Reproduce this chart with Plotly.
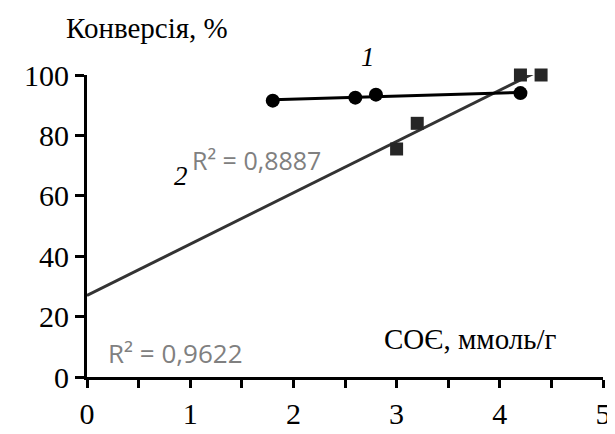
import numpy as np
import plotly.graph_objects as go

# Data
x1 = [1.8, 2.6, 2.8, 4.2]
y1 = [91.5, 92.5, 93.5, 94.0]
x2 = [3.0, 3.2, 4.2, 4.4]
y2 = [75.5, 84.0, 100.0, 100.0]
x_ticks = [0, 1, 2, 3, 4, 5]
y_ticks = [0, 20, 40, 60, 80, 100]
r2_labels = ["R² = 0,8887", "R² = 0,9622"]

# Linear trendlines (fitted from data)
k1, b1 = np.polyfit(x1, y1, 1)
k2, b2 = np.polyfit(x2, y2, 1)
t1x = [min(x1), max(x1)]
t1y = [k1 * v + b1 for v in t1x]
t2x = [0, max(x2)]
t2y = [k2 * v + b2 for v in t2x]

fig = go.Figure()
fig.add_trace(go.Scatter(x=t2x, y=t2y, mode="lines",
                         line=dict(color="#333333", width=3), cliponaxis=False))
fig.add_trace(go.Scatter(x=t1x, y=t1y, mode="lines",
                         line=dict(color="#000000", width=3), cliponaxis=False))
fig.add_trace(go.Scatter(x=x1, y=y1, mode="markers",
                         marker=dict(symbol="circle", size=14, color="#000000"),
                         cliponaxis=False))
fig.add_trace(go.Scatter(x=x2, y=y2, mode="markers",
                         marker=dict(symbol="square", size=13, color="#262626"),
                         cliponaxis=False))

serif = "Liberation Serif"
sans = "Open Sans"
fig.update_layout(
    width=615, height=434,
    margin=dict(l=79, r=17, t=67, b=61),
    plot_bgcolor="white", paper_bgcolor="white",
    showlegend=False,
    font=dict(family=serif, size=29, color="black"),
)
fig.update_xaxes(range=[0, 5], tickmode="array", tickvals=x_ticks,
                 ticktext=[str(v) for v in x_ticks],
                 showgrid=False, zeroline=False,
                 showline=True, linecolor="black", linewidth=3,
                 ticks="outside", ticklen=8, tickwidth=2.5, tickcolor="black",
                 minor=dict(tickvals=[0.5, 1.5, 2.5, 3.5, 4.5], ticks="outside",
                            ticklen=8, tickwidth=2.5, tickcolor="black"),
                 tickfont_family=serif, tickfont_size=30, tickfont_color="black")
fig.update_yaxes(range=[0, 100], tickmode="array", tickvals=y_ticks,
                 ticktext=[str(v) for v in y_ticks],
                 showgrid=False, zeroline=False,
                 showline=True, linecolor="black", linewidth=3,
                 ticks="outside", ticklen=9, tickwidth=2.5, tickcolor="black",
                 tickfont_family=serif, tickfont_size=30, tickfont_color="black")

fig.add_annotation(xref="paper", yref="paper", x=-0.044, y=1.154, xanchor="left",
                   yanchor="middle", text="Конверсія, %", showarrow=False,
                   font=dict(family=serif, size=29, color="black"))
fig.add_annotation(xref="paper", yref="paper", x=0.571, y=0.127, xanchor="left",
                   yanchor="middle", text="СОЄ, ммоль/г", showarrow=False,
                   font=dict(family=serif, size=29, color="black"))
fig.add_annotation(xref="paper", yref="paper", x=0.545, y=1.058, yanchor="middle",
                   text="<i>1</i>",
                   showarrow=False, font=dict(family=serif, size=27, color="black"))
fig.add_annotation(xref="paper", yref="paper", x=0.164, y=0.665, yanchor="middle",
                   text="<i>2</i>",
                   showarrow=False, font=dict(family=serif, size=27, color="black"))
fig.add_annotation(xref="paper", yref="paper", x=0.2, y=0.719, xanchor="left",
                   yanchor="middle", text=r2_labels[0],
                   showarrow=False, font=dict(family=sans, size=25, color="#808080"))
fig.add_annotation(xref="paper", yref="paper", x=0.037, y=0.078, xanchor="left",
                   yanchor="middle", text=r2_labels[1],
                   showarrow=False, font=dict(family=sans, size=26, color="#808080"))

fig.write_html("out.html")
